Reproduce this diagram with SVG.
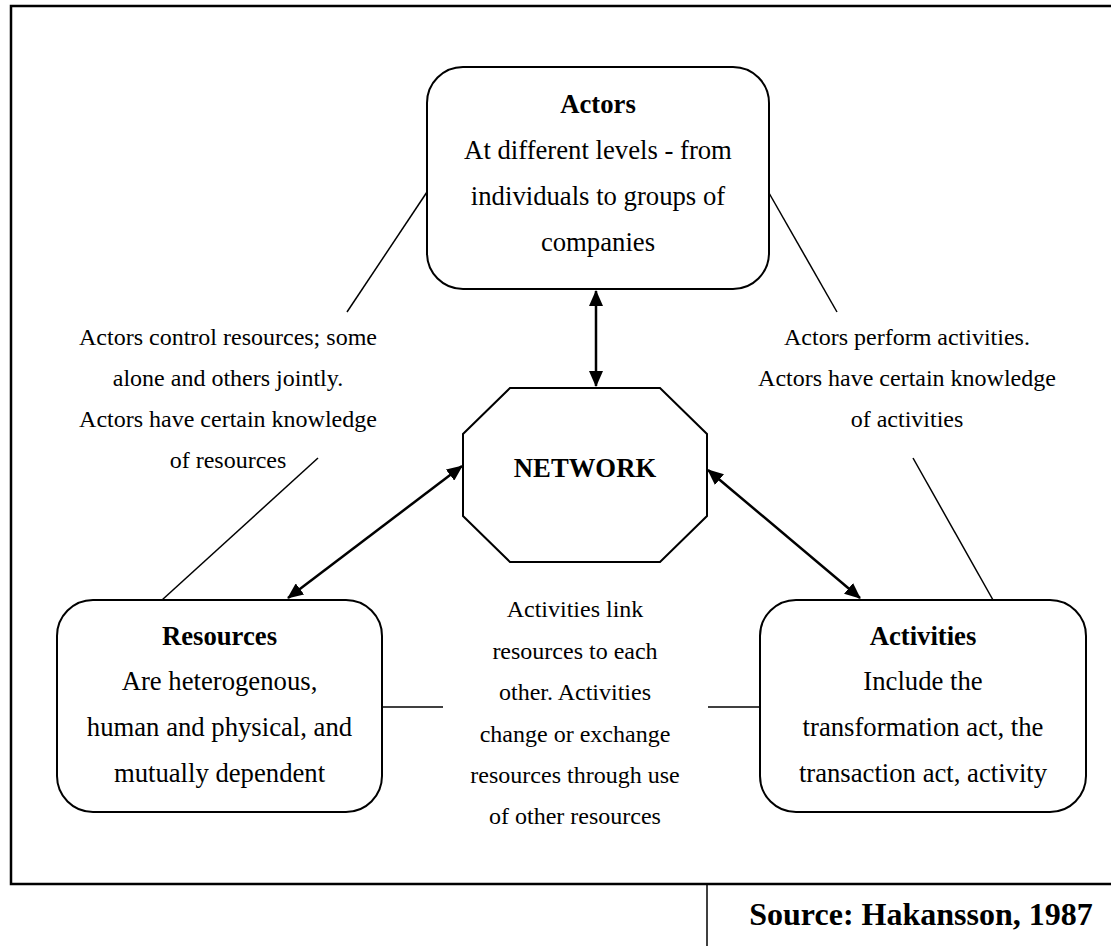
<svg xmlns="http://www.w3.org/2000/svg" width="1111" height="946" viewBox="0 0 1111 946">
<style>
.box{fill:#fff;stroke:#000;stroke-width:2}
.t{font-family:"Liberation Serif","Times New Roman",serif;font-size:26.7px;text-anchor:middle;fill:#000}
.b{font-weight:bold}
.n{font-family:"Liberation Serif","Times New Roman",serif;font-size:24px;text-anchor:middle;fill:#000}
.ln{stroke:#000;stroke-width:1.5;fill:none}
.ar{stroke:#000;stroke-width:2.5;fill:none;marker-start:url(#ah);marker-end:url(#ah)}
</style>
<defs>
<marker id="ah" viewBox="0 0 16 14" refX="15" refY="7" markerWidth="16" markerHeight="14" markerUnits="userSpaceOnUse" orient="auto-start-reverse">
<path d="M0,0 L16,7 L0,14 z" fill="#000"/>
</marker>
</defs>
<rect width="1111" height="946" fill="#fff"/>
<g id="frame">
<path d="M1111,6 H11 V884 H1111" fill="none" stroke="#000" stroke-width="2.5"/>
<line x1="707" y1="884" x2="707" y2="946" stroke="#000" stroke-width="1.5"/>
</g>
<g id="connectors">
<line class="ar" x1="596" y1="291" x2="596" y2="386"/>
<line class="ar" x1="462" y1="466" x2="288" y2="598"/>
<line class="ar" x1="708" y1="470" x2="860" y2="598"/>
<line class="ln" x1="427" y1="192" x2="347" y2="312"/>
<line class="ln" x1="769" y1="193" x2="837" y2="312"/>
<line class="ln" x1="318" y1="458" x2="162" y2="600"/>
<line class="ln" x1="913" y1="458" x2="993" y2="600"/>
<line class="ln" x1="382" y1="707" x2="443" y2="707"/>
<line class="ln" x1="708" y1="707" x2="760" y2="707"/>
</g>
<g id="actors">
<rect class="box" x="427" y="67" width="342" height="222" rx="36"/>
<text class="t b" x="598" y="113">Actors</text>
<text class="t" x="598" y="159">At different levels - from</text>
<text class="t" x="598" y="205">individuals to groups of</text>
<text class="t" x="598" y="251">companies</text>
</g>
<g id="network">
<polygon class="box" points="510,388 660,388 707,434 707,516 660,562 510,562 463,516 463,434"/>
<text class="t b" x="585" y="477">NETWORK</text>
</g>
<g id="resources">
<rect class="box" x="57" y="600" width="325" height="212" rx="36"/>
<text class="t b" x="219.5" y="645">Resources</text>
<text class="t" x="219.5" y="690">Are heterogenous,</text>
<text class="t" x="219.5" y="736">human and physical, and</text>
<text class="t" x="219.5" y="782">mutually dependent</text>
</g>
<g id="activities">
<rect class="box" x="760" y="600" width="326" height="212" rx="36"/>
<text class="t b" x="923" y="645">Activities</text>
<text class="t" x="923" y="690">Include the</text>
<text class="t" x="923" y="736">transformation act, the</text>
<text class="t" x="923" y="782">transaction act, activity</text>
</g>
<g id="label-actors-resources">
<text class="n" x="228" y="345">Actors control resources; some</text>
<text class="n" x="228" y="386">alone and others jointly.</text>
<text class="n" x="228" y="427">Actors have certain knowledge</text>
<text class="n" x="228" y="468">of resources</text>
</g>
<g id="label-actors-activities">
<text class="n" x="907" y="345">Actors perform activities.</text>
<text class="n" x="907" y="386">Actors have certain knowledge</text>
<text class="n" x="907" y="427">of activities</text>
</g>
<g id="label-activities-resources">
<text class="n" x="575" y="617">Activities link</text>
<text class="n" x="575" y="659">resources to each</text>
<text class="n" x="575" y="700">other. Activities</text>
<text class="n" x="575" y="742">change or exchange</text>
<text class="n" x="575" y="783">resources through use</text>
<text class="n" x="575" y="824">of other resources</text>
</g>
<g id="source">
<text x="921" y="925" font-family="Liberation Serif, Times New Roman, serif" font-size="32" font-weight="bold" text-anchor="middle">Source: Hakansson, 1987</text>
</g>
</svg>
